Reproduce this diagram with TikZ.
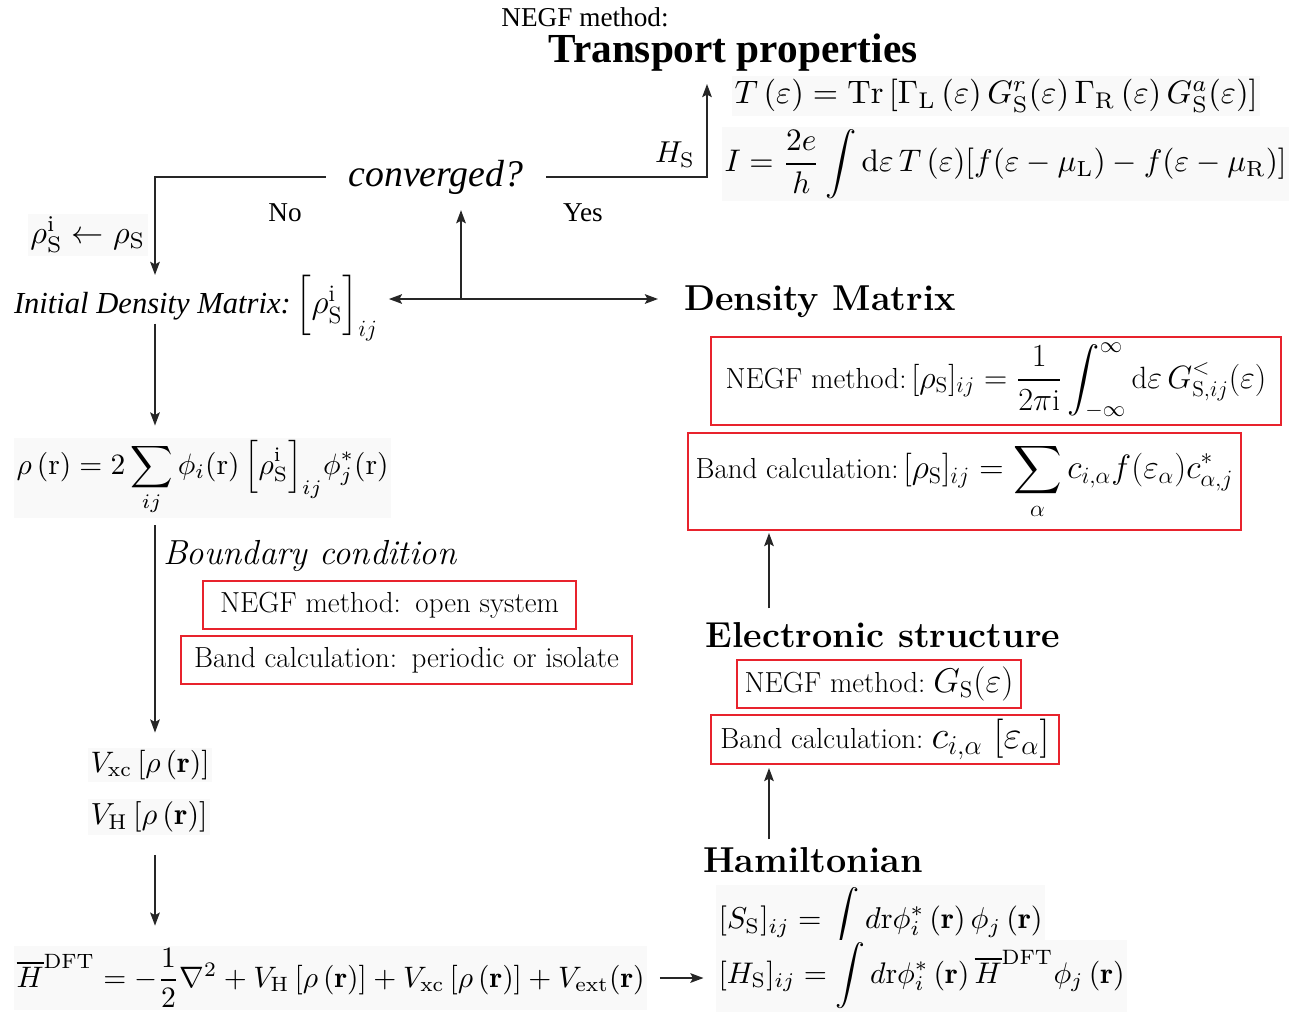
\documentclass[tikz,border=0pt]{standalone}
\usepackage{fontspec}
\usepackage{amsmath}
\usepackage{graphicx}
\newfontfamily\libserif{Liberation Serif}
\usetikzlibrary{arrows.meta,calc}
\newlength\pxu
\setlength\pxu{0.02cm}
\newcommand\fitw[2]{\resizebox{#1\pxu}{!}{#2}}
\definecolor{boxred}{RGB}{232,35,45}
\begin{document}
\begin{tikzpicture}[x=0.02cm,y=-0.02cm,
  every node/.style={inner sep=0pt, outer sep=0pt},
  arr/.style={draw=black!85, line width=0.9pt, -{Stealth[length=7.5pt,width=5.5pt,inset=1.5pt]}},
  dbl/.style={draw=black!85, line width=0.9pt, {Stealth[length=7.5pt,width=5.5pt,inset=1.5pt]}-{Stealth[length=7.5pt,width=5.5pt,inset=1.5pt]}},
  redbox/.style={draw=boxred, line width=0.9pt, font=\fontsize{16.5}{20}\selectfont},
  eqbg/.style={fill=black!2.5, inner sep=1.5pt},
  heading/.style={font=\fontsize{20.5}{24}\selectfont\bfseries},
  timestext/.style={font=\fontsize{15.5}{18}\selectfont\libserif},
]
\useasboundingbox (0,0) rectangle (1302,1012);

% ---------- top: transport ----------
\node[timestext] (tnegf) at (585,17) {NEGF method:};
\node[font=\fontsize{23.5}{28}\selectfont\libserif\bfseries] (ttitle) at (733,53) {Transport properties};
\node[eqbg, anchor=west] (teq1) at (732,96) {\fitw{523}{$T\,(\varepsilon)=\mathrm{Tr}\left[\Gamma_{\mathrm{L}}\,(\varepsilon)\,G^{r}_{\mathrm{S}}(\varepsilon)\,\Gamma_{\mathrm{R}}\,(\varepsilon)\,G^{a}_{\mathrm{S}}(\varepsilon)\right]$}};
\node[eqbg, anchor=west] (teq2) at (722,164) {\fitw{562}{$I=\dfrac{2e}{h}\displaystyle\int\mathrm{d}\varepsilon\,T\,(\varepsilon)[f(\varepsilon-\mu_{\mathrm{L}})-f(\varepsilon-\mu_{\mathrm{R}})]$}};
\node (hs) at (675,155) {\fitw{40}{$H_{\mathrm{S}}$}};
\coordinate (tpin) at (707,84);

% ---------- converged ----------
\node[font=\fontsize{21.5}{26}\selectfont\libserif\itshape, inner xsep=0.46cm] (conv) at (436,177) {converged?};
\node[timestext] (no) at (285,213) {No};
\node[timestext] (yes) at (583,213) {Yes};
\node[eqbg] (rhoupd) at (88,235) {\fitw{115}{$\rho^{\mathrm{i}}_{\mathrm{S}}\leftarrow\rho_{\mathrm{S}}$}};

% ---------- left column ----------
\coordinate (L) at (155,0);
\node[anchor=west, font=\fontsize{17.4}{21}\selectfont] (init) at (14,308) {{\libserif\itshape Initial Density Matrix:}\,\fitw{82}{$\Bigl[\rho^{\mathrm{i}}_{\mathrm{S}}\Bigr]_{ij}$}};
\node[eqbg, anchor=west] (rho) at (14,478) {\fitw{372}{$\displaystyle\rho\,(\mathrm{r})=2\sum_{ij}\phi_i(\mathrm{r})\,\Bigl[\rho^{\mathrm{i}}_{\mathrm{S}}\Bigr]_{ij}\phi^*_j(\mathrm{r})$}};
\node[anchor=west, font=\fontsize{19.8}{24}\selectfont\itshape] (bc) at (163,556) {Boundary condition};
\node[redbox, minimum width=7.46cm, minimum height=0.96cm] (negfbc) at (389.5,605) {NEGF method:\enspace open system};
\node[redbox, minimum width=9.02cm, minimum height=0.96cm] (bandbc) at (406.5,660) {Band calculation:\enspace periodic or isolate};
\node[eqbg, anchor=west] (vxc) at (88,765) {\fitw{119}{$V_{\mathrm{xc}}\left[\rho\left(\mathbf{r}\right)\right]$}};
\node[eqbg, anchor=west] (vh) at (88,817) {\fitw{117}{$V_{\mathrm{H}}\left[\rho\left(\mathbf{r}\right)\right]$}};
\node[eqbg, anchor=west] (hdft) at (14,978) {\fitw{628}{$\overline{H}^{\mathrm{DFT}}=-\dfrac{1}{2}\nabla^2+V_{\mathrm{H}}\left[\rho\left(\mathbf{r}\right)\right]+V_{\mathrm{xc}}\left[\rho\left(\mathbf{r}\right)\right]+V_{\mathrm{ext}}(\mathbf{r})$}};

% ---------- right column ----------
\coordinate (M) at (769,0);
\node[heading] (dm) at (820,302) {Density Matrix};
\node[redbox, minimum width=11.4cm, minimum height=1.76cm] (negfdm) at (996,381) {NEGF method:\,\fitw{355}{$[\rho_{\mathrm{S}}]_{ij}=\dfrac{1}{2\pi\mathrm{i}}\displaystyle\int_{-\infty}^{\infty}\mathrm{d}\varepsilon\,G^{<}_{\mathrm{S},ij}(\varepsilon)$}};
\node[redbox, minimum width=11.06cm, minimum height=1.94cm] (banddm) at (964.5,481.5) {Band calculation:\,\fitw{330}{$[\rho_{\mathrm{S}}]_{ij}=\displaystyle\sum_{\alpha}c_{i,\alpha}f(\varepsilon_{\alpha})c^{*}_{\alpha,j}$}};
\node[heading] (es) at (883,635) {Electronic structure};
\node[redbox, minimum width=5.68cm, minimum height=0.96cm] (negfes) at (879,684) {NEGF method:\;\fitw{80}{$G_{\mathrm{S}}(\varepsilon)$}};
\node[redbox, minimum width=6.96cm, minimum height=0.98cm] (bandes) at (885,739.5) {Band calculation:\;\fitw{118}{$c_{i,\alpha}\;[\varepsilon_{\alpha}]$}};
\node[heading] (ham) at (813,860) {Hamiltonian};
\node[eqbg, anchor=west] (seq) at (716,921) {\fitw{324}{$[S_{\mathrm{S}}]_{ij}=\displaystyle\int d\mathrm{r}\phi^*_i\left(\mathbf{r}\right)\phi_j\left(\mathbf{r}\right)$}};
\node[eqbg, anchor=west] (heq) at (716,976) {\fitw{406}{$[H_{\mathrm{S}}]_{ij}=\displaystyle\int d\mathrm{r}\phi^*_i\left(\mathbf{r}\right)\overline{H}^{\mathrm{DFT}}\phi_j\left(\mathbf{r}\right)$}};

% ---------- connectors ----------
\coordinate (junc) at (461,299);
\draw[arr] (conv.west) -| (init.north -| L);
\draw[arr] (conv.east) -| (tpin);
\draw[arr, shorten <=0.2cm, shorten >=0.24cm] (init.base -| L) -- (rho.north -| L);
\draw[arr, shorten <=0.14cm, shorten >=0.3cm] (rho.south -| L) -- (vxc.north -| L);
\draw[arr, shorten <=0.4cm, shorten >=0.4cm] (vh.south -| L) -- (hdft.north -| L);
\draw[arr, shorten <=0.25cm, shorten >=0.25cm] (hdft.east) -- (hdft.east -| heq.west);
\draw[arr, shorten <=0.16cm, shorten >=0.08cm] (ham.north -| M) -- (bandes.south -| M);
\draw[arr, shorten <=0.28cm, shorten >=0.06cm] (es.north -| M) -- (banddm.south -| M);
\draw[dbl, shorten <=0.22cm, shorten >=0.52cm] (init.east |- junc) -- (dm.west |- junc);
\draw[arr, shorten >=0.32cm] (junc) -- (conv.south -| junc);
\end{tikzpicture}
\end{document}
